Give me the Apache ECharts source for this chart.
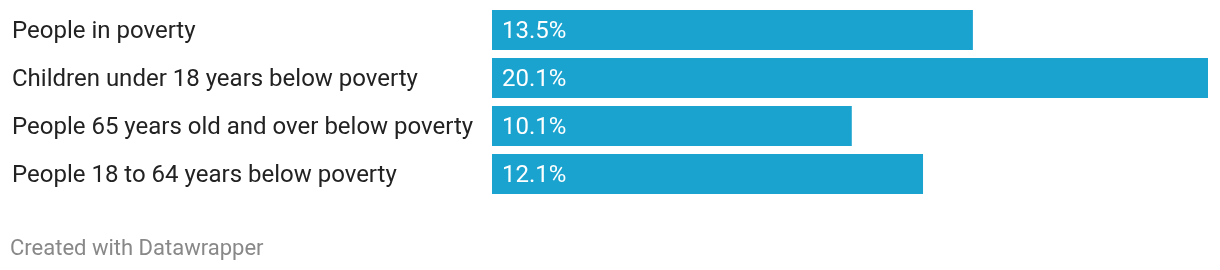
<!DOCTYPE html>
<html><head><meta charset="utf-8">
<script src="https://cdn.jsdelivr.net/npm/echarts@6/dist/echarts.min.js"></script>
<style>html,body{margin:0;padding:0;background:#fff;}#c{width:1220px;height:270px;}</style>
</head><body><div id="c"></div>
<script>
const categories = ["People in poverty","Children under 18 years below poverty","People 65 years old and over below poverty","People 18 to 64 years below poverty"];
const values = [13.5, 20.1, 10.1, 12.1];
const credit = "Created with Datawrapper";

const chart = echarts.init(document.getElementById('c'), null, {renderer:'canvas'});
chart.setOption({
  animation:false,
  grid:{left:492, right:12, top:6, height:192, containLabel:false},
  xAxis:{type:'value', min:0, max:20.1, show:false},
  yAxis:{type:'category', data:categories, inverse:true,
    axisLine:{show:false}, axisTick:{show:false}, splitLine:{show:false},
    axisLabel:{align:'left', margin:480, formatter:v=>'{a|'+v+'}',
      rich:{a:{fontFamily:'Roboto', fontSize:24, color:'#222', padding:[4,0,0,0]}}}},
  series:[{type:'bar', data:values, barCategoryGap:'16.6667%',
    itemStyle:{color:'#1aa3cf'},
    label:{show:true, position:'insideLeft', distance:10, offset:[0,2], color:'#fff', fontFamily:'Roboto', fontSize:24,
      formatter:p=>p.value.toFixed(1)+'%'}}],
  graphic:[{type:'text', left:10, top:238, style:{text:credit, fontFamily:'Roboto', fontSize:22, fill:'#888'}}]
});
</script></body></html>
